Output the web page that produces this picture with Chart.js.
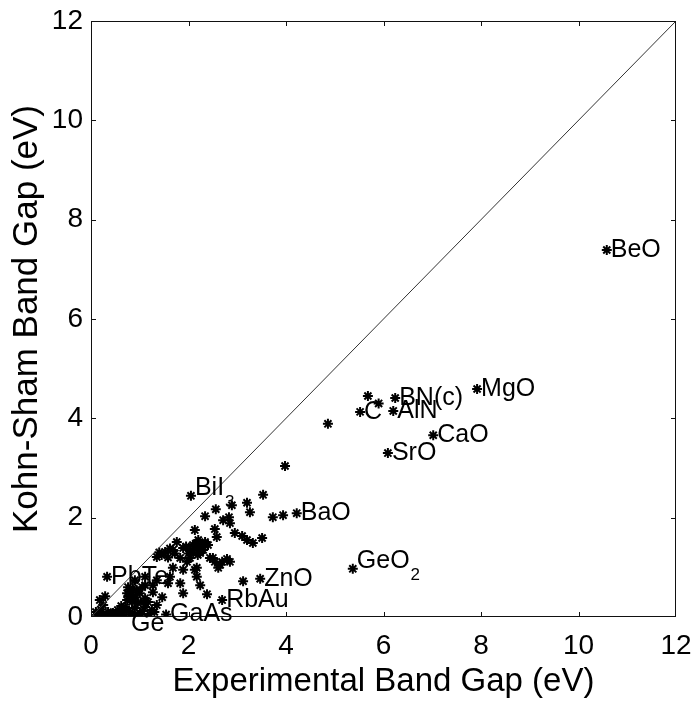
<!DOCTYPE html>
<html><head><meta charset="utf-8">
<script src="https://cdn.jsdelivr.net/npm/chart.js@4/dist/chart.umd.min.js"></script>
<style>html,body{margin:0;padding:0;background:#fff}#wrap{width:698px;height:704px}</style>
</head><body><div id="wrap"><canvas id="c" width="698" height="704"></canvas></div>
<script>
// ---- data ----
const xTicks = [0, 2, 4, 6, 8, 10, 12];
const yTicks = [0, 2, 4, 6, 8, 10, 12];
const labeledNames = ['BeO','MgO','BN(c)','C','AlN','CaO','SrO','BaO','BiI_3','GeO_2','ZnO','RbAu','PbTe','Ge','GaAs'];
const labeledExp   = [10.58, 7.92, 6.24, 5.52, 6.20, 7.02, 6.09, 4.22, 2.05, 5.37, 3.47, 2.69, 0.33, 0.74, 1.54];
const labeledKS    = [7.39, 4.59, 4.41, 4.13, 4.15, 3.66, 3.30, 2.09, 2.44, 0.97, 0.77, 0.34, 0.81, -0.15, 0.05];
const otherExp = [5.68,5.90,4.86,3.98,3.94,3.73,3.53,3.20,3.26,2.89,2.56,2.34,2.83,2.71,2.85,2.13,2.54,2.58,2.95,3.10,3.20,3.32,3.51,
  1.35,1.52,1.68,1.76,1.89,2.03,2.09,2.17,2.24,2.34,2.40,2.19,2.03,1.83,1.89,2.17,2.17,2.24,1.83,1.89,2.38,2.44,2.54,2.65,2.79,2.61,1.68,1.62,1.58,1.46,1.27,1.11,0.94,0.86,0.74,0.29,0.18,0.25,1.35,1.11,0.90,1.97,2.13,2.50,2.69,2.85,2.24,3.12,
  1.45,1.58,1.62,2.10,2.30,2.20,1.95,2.00,2.15,2.28,1.72,1.40,
  0.12,0.25,0.35,0.45,0.55,0.64,0.70,0.80,0.90,0.96,1.00,1.11,1.17,1.25,1.35,0.84,0.74,1.00,1.11,0.86,1.05,0.76,0.84,1.27,0.39,0.53,1.17,0.66,0.10,
  0.20,0.30,0.42,0.50,0.60,0.72,0.85,0.95,1.05,1.20,1.30,0.62,0.92,1.08,0.78,0.20];
const otherKS = [4.45,4.30,3.89,3.04,2.05,2.01,2.46,2.30,2.11,2.25,2.17,2.03,2.01,1.95,1.89,1.75,1.77,1.61,1.69,1.63,1.55,1.49,1.59,
  1.21,1.31,1.35,1.51,1.39,1.35,1.45,1.39,1.45,1.51,1.45,1.25,1.19,1.19,0.95,0.99,0.81,0.64,0.68,0.48,0.46,1.19,1.11,1.05,1.17,0.99,0.99,0.81,0.68,0.40,0.64,0.64,0.54,0.40,0.48,0.42,0.34,0.24,0.74,0.81,0.74,1.11,0.95,1.19,1.11,1.11,1.29,0.72,
  1.25,1.20,1.38,1.30,1.35,1.55,1.42,1.28,1.48,1.40,1.28,1.30,
  0.00,0.04,0.10,0.08,0.14,0.04,0.20,0.10,0.18,0.28,0.08,0.20,0.30,0.14,0.24,0.30,0.34,0.48,0.38,0.58,0.60,0.60,0.50,0.50,0.00,0.00,0.00,0.00,0.10,
  0.06,0.02,0.05,0.02,0.10,0.12,0.04,0.02,0.12,0.06,0.10,0.22,0.40,0.30,0.42,0.15];
const diagonal = [0, 12];
const xTitle = 'Experimental Band Gap (eV)';
const yTitle = 'Kohn-Sham Band Gap (eV)';

// ---- build ----
const FONT = '"Liberation Sans", Arial, Helvetica, sans-serif';
const points = otherExp.map((x, i) => ({x, y: otherKS[i]}))
  .concat(labeledExp.map((x, i) => ({x, y: labeledKS[i]})));

const framePlugin = {
  id: 'frame',
  afterDatasetsDraw(chart) {
    const {ctx, chartArea: a, scales: {x, y}} = chart;
    ctx.save();
    ctx.strokeStyle = '#111';
    ctx.lineWidth = 1;
    ctx.strokeRect(a.left + 0.5, a.top + 0.5, a.right - a.left - 1, a.bottom - a.top - 1);
    const tl = 5;
    ctx.beginPath();
    xTicks.forEach(v => {
      if (v === xTicks[0] || v === xTicks[xTicks.length - 1]) return;
      const px = Math.round(x.getPixelForValue(v)) + 0.5;
      ctx.moveTo(px, a.bottom); ctx.lineTo(px, a.bottom - tl);
      ctx.moveTo(px, a.top); ctx.lineTo(px, a.top + tl);
    });
    yTicks.forEach(v => {
      if (v === yTicks[0] || v === yTicks[yTicks.length - 1]) return;
      const py = Math.round(y.getPixelForValue(v)) + 0.5;
      ctx.moveTo(a.left, py); ctx.lineTo(a.left + tl, py);
      ctx.moveTo(a.right, py); ctx.lineTo(a.right - tl, py);
    });
    ctx.stroke();
    ctx.restore();
  }
};

const labelPlugin = {
  id: 'pointLabels',
  afterDatasetsDraw(chart) {
    const {ctx, scales: {x, y}} = chart;
    ctx.save();
    ctx.fillStyle = '#000';
    ctx.textAlign = 'left';
    ctx.textBaseline = 'middle';
    labeledNames.forEach((name, i) => {
      const px = x.getPixelForValue(labeledExp[i]) + 4;
      const py = y.getPixelForValue(labeledKS[i]);
      const parts = name.split('_');
      ctx.font = '25px ' + FONT;
      if (parts.length > 1) {
        ctx.fillText(parts[0], px, py - 8);
        const w = ctx.measureText(parts[0]).width;
        ctx.font = '17px ' + FONT;
        ctx.fillText(parts[1], px + w + 1, py + 6);
      } else {
        ctx.fillText(name, px, py);
      }
    });
    ctx.restore();
  }
};

new Chart(document.getElementById('c'), {
  type: 'scatter',
  data: {
    datasets: [
      {
        type: 'line',
        data: diagonal.map(v => ({x: v, y: v})),
        borderColor: '#333',
        borderWidth: 1,
        pointRadius: 0,
        fill: false
      },
      {
        data: points,
        pointStyle: 'star',
        pointRadius: 5,
        borderColor: '#000',
        backgroundColor: '#000',
        borderWidth: 2
      }
    ]
  },
  options: {
    responsive: false,
    devicePixelRatio: 1,
    animation: false,
    layout: {padding: {top: 21, right: 22, left: 0, bottom: 0}},
    plugins: {legend: {display: false}, tooltip: {enabled: false}},
    scales: {
      x: {
        type: 'linear', min: 0, max: 12,
        afterBuildTicks: s => { s.ticks = xTicks.map(v => ({value: v})); },
        afterFit: s => { s.height = 87; s.paddingLeft = 0; s.paddingRight = 0; },
        grid: {display: false, drawTicks: false},
        border: {display: false},
        ticks: {color: '#000', font: {family: FONT, size: 28}, padding: 12, maxRotation: 0, autoSkip: false},
        title: {display: true, text: xTitle, color: '#000', font: {family: FONT, size: 33}, padding: {top: 0, bottom: 2}}
      },
      y: {
        type: 'linear', min: 0, max: 12,
        afterBuildTicks: s => { s.ticks = yTicks.map(v => ({value: v})); },
        afterFit: s => { s.width = 91; s.paddingTop = 0; s.paddingBottom = 0; },
        grid: {display: false, drawTicks: false},
        border: {display: false},
        ticks: {color: '#000', font: {family: FONT, size: 28}, padding: 8, autoSkip: false},
        title: {display: true, text: yTitle, color: '#000', font: {family: FONT, size: 35}, padding: {top: 6, bottom: 0}}
      }
    }
  },
  plugins: [framePlugin, labelPlugin]
});
</script>
</body></html>
